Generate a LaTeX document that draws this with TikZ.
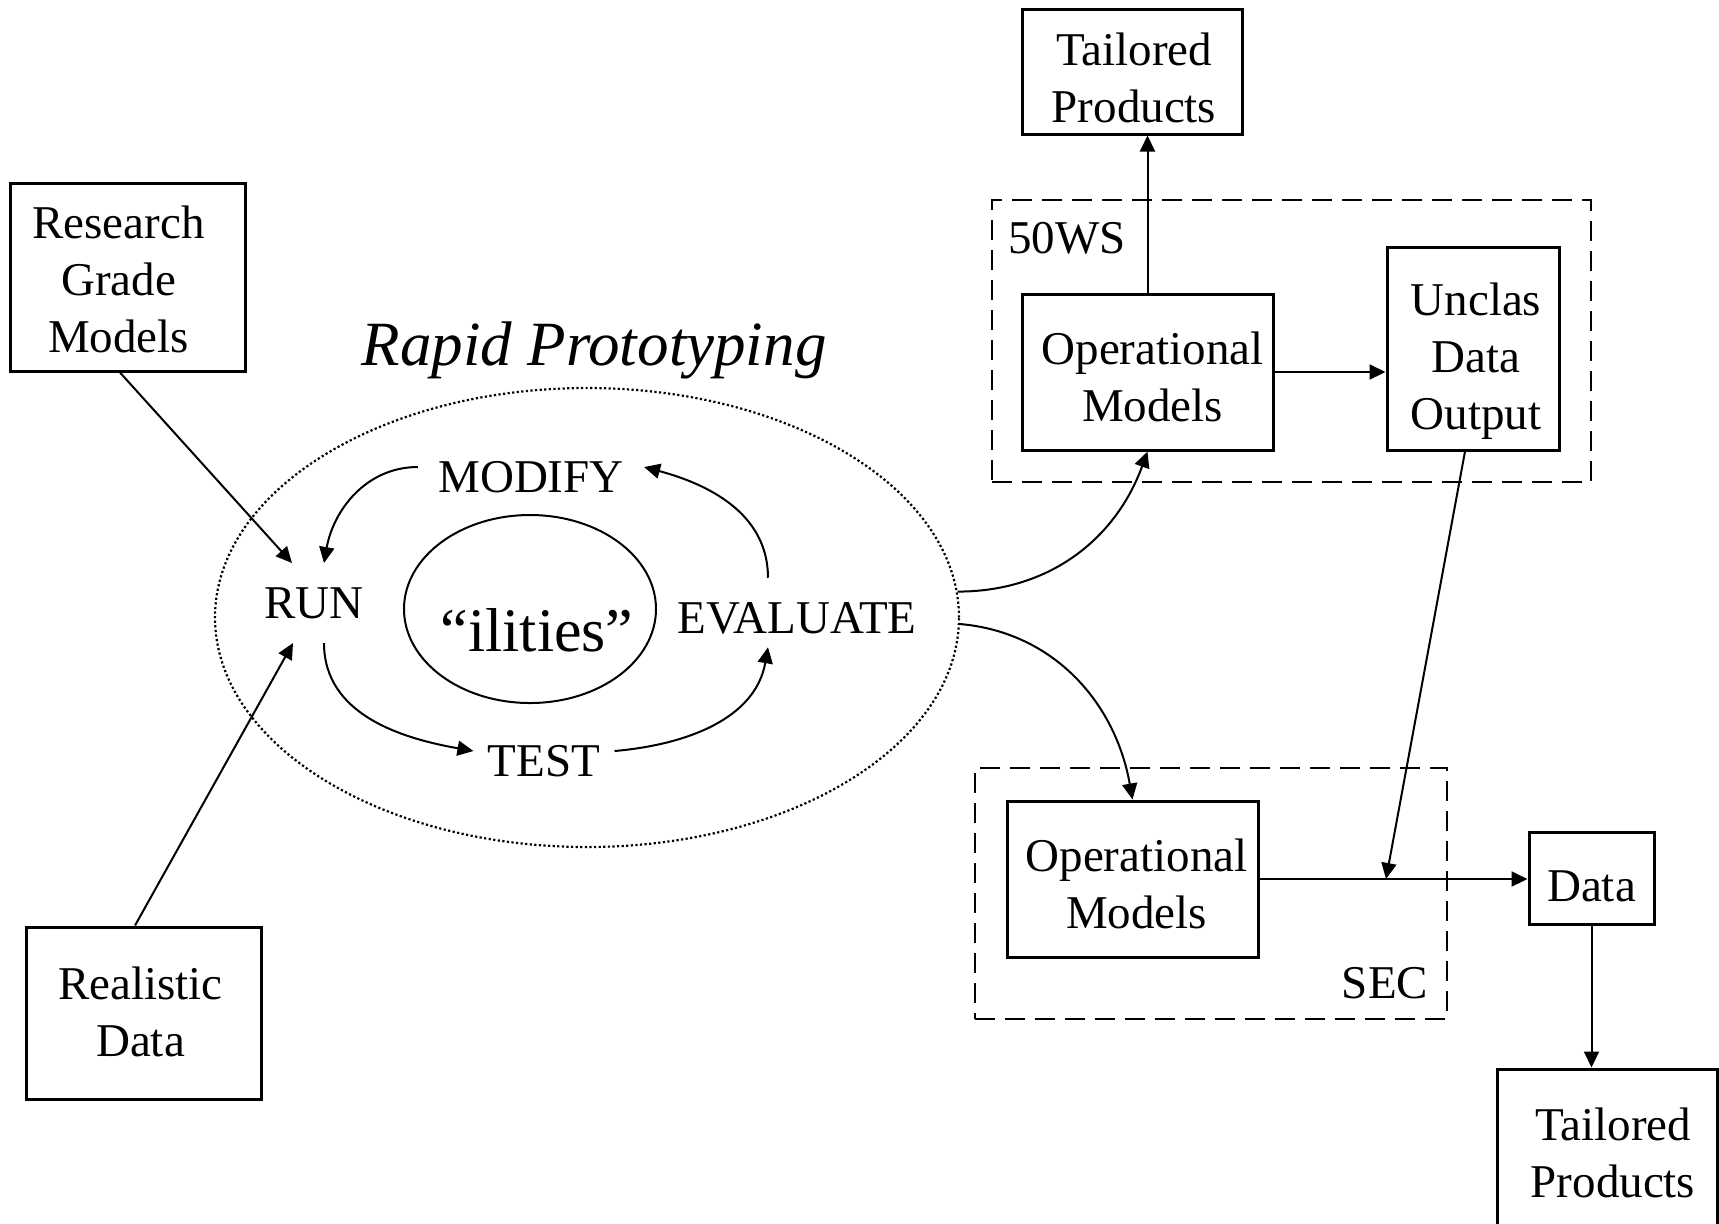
\documentclass[tikz,border=0pt]{standalone}
\usepackage{fontspec}
\setmainfont{Liberation Serif}
\usetikzlibrary{arrows.meta,shapes.geometric,calc}
% #1 vertical raise, #2 twice the horizontal shift, #3 lines
\newcommand{\bt}[3]{\kern#2\raisebox{#1}[\height][\depth]{\begin{tabular}{@{}c@{}}#3\end{tabular}}}
\begin{document}
\begin{tikzpicture}[x=0.5pt,y=-0.5pt,
  every node/.style={font=\fontsize{23.5pt}{28.5pt}\selectfont},
  box/.style={draw,line width=1.5pt,inner sep=0pt,align=center},
  cont/.style={draw,line width=1.3pt,dash pattern=on 10pt off 5pt,inner sep=0pt},
  lbl/.style={inner sep=0pt},
  arr/.style={-{Triangle[length=8pt,width=7.5pt]},line width=1pt},
]
\useasboundingbox (0,0) rectangle (1719,1223);

% left inputs
\node[box,minimum width=117.5pt,minimum height=94pt] (rgm) at (127.5,277) {\bt{-3.6pt}{-9pt}{Research\\Grade\\Models}};
\node[box,minimum width=117.5pt,minimum height=86pt] (rd) at (143.5,1013) {\bt{-1.6pt}{-3pt}{Realistic\\Data}};

% rapid prototyping
\node[draw,ellipse,dash pattern=on 1.1pt off 1.2pt,line width=1.1pt,minimum width=372pt,minimum height=229.5pt,inner sep=0pt] (rp) at (587,617.5) {};
\node[font=\fontsize{31.5pt}{37pt}\selectfont\itshape,anchor=base,inner sep=0pt] (rptitle) at (594,365) {Rapid Prototyping};
\node[draw,ellipse,line width=1pt,minimum width=126pt,minimum height=94pt,inner sep=0pt] (ilit) at (530,609) {};
\node[font=\fontsize{31pt}{37pt}\selectfont,inner sep=0pt] (ilittxt) at (537,630) {“ilities”};

\node[inner xsep=2pt,inner ysep=12pt] (run) at (314,603) {RUN};
\node[inner xsep=10pt,inner ysep=2pt] (modify) at (531,477) {MODIFY};
\node[inner xsep=2pt,inner ysep=12pt] (evaluate) at (797,618) {EVALUATE};
\node[inner xsep=7pt,inner ysep=2pt] (test) at (544,761) {TEST};

\draw[arr] ([yshift=5pt]modify.west) to[out=180,in=80] ([xshift=5pt]run.north);
\draw[arr] ([xshift=5pt]run.south) to[out=-90,in=170] ([yshift=5pt]test.west);
\draw[arr] ([yshift=5pt]test.east) to[out=5,in=-100] ([xshift=-14.5pt,yshift=5.5pt]evaluate.south);
\draw[arr] ([xshift=-14.5pt]evaluate.north) to[out=90,in=-15] ([yshift=5pt]modify.east);

\draw[arr] ([xshift=-3.75pt]rgm.south) -- ([xshift=-11pt]run.north);
\draw[arr] ([xshift=-4.25pt]rd.north) -- ([xshift=-10.5pt]run.south);

% 50WS
\node[cont,minimum width=299.5pt,minimum height=141pt] (ws) at (1291.5,341) {};
\node[lbl,anchor=base] (wslbl) at (1067,253) {50WS};
\node[box,minimum width=110pt,minimum height=62.5pt] (tp1) at (1132,71.5) {\bt{-5.6pt}{2pt}{Tailored\\Products}};
\node[box,minimum width=125.5pt,minimum height=78pt] (op1) at (1147.5,372) {\bt{-4.6pt}{5pt}{Operational\\Models}};
\node[box,minimum width=86pt,minimum height=101.5pt] (unc) at (1473,348.5) {\bt{-6.35pt}{3pt}{Unclas\\Data\\Output}};

% SEC
\node[cont,minimum width=236pt,minimum height=125.5pt] (sec) at (1211,893.5) {};
\node[lbl,anchor=base] (seclbl) at (1385,998) {SEC};
\node[box,minimum width=125.5pt,minimum height=78pt] (op2) at (1132.5,879) {\bt{-4.85pt}{4pt}{Operational\\Models}};
\node[box,minimum width=62.5pt,minimum height=46pt] (data) at (1591.5,878) {\bt{-6.1pt}{0pt}{Data}};
\node[box,minimum width=110pt,minimum height=85.5pt] (tp2) at (1607,1154.5) {\bt{-1.6pt}{6pt}{Tailored\\Products}};

\coordinate (j) at (1386,879);

\draw[arr] (op1.north) -- (op1.north |- tp1.south);
\draw[arr] (op1.east) -- (op1.east -| unc.west);
\draw[arr] (rp.4) to[out=0,in=-110] (op1.south);
\draw[arr] (rp.-1.3) to[out=-5,in=100] (op2.north);
\draw[arr] ([xshift=-4pt]unc.south) -- (j);
\draw[arr] (op2.east) -- (op2.east -| data.west);
\draw[arr] (data.south) -- (data.south |- tp2.north);
\end{tikzpicture}
\end{document}
